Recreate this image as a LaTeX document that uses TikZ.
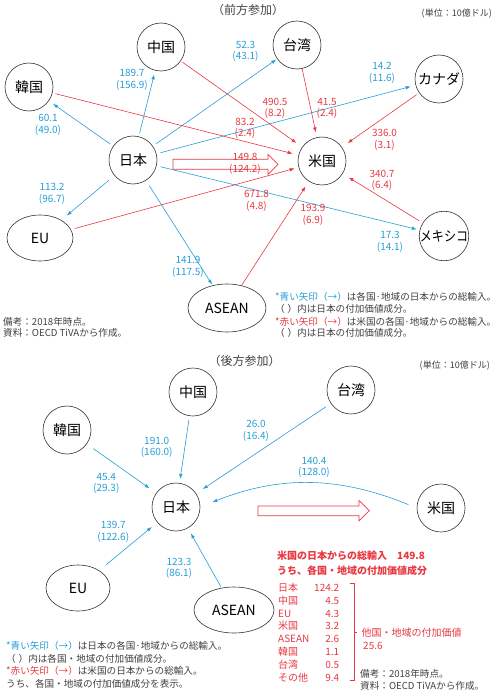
\documentclass[tikz,border=0pt]{standalone}
\usepackage{fontspec}
\setmainfont{Noto Sans CJK JP}
\usetikzlibrary{arrows.meta,shapes.geometric}
\definecolor{jblue}{RGB}{38,158,216}
\definecolor{jred}{RGB}{232,56,66}
\definecolor{ngray}{RGB}{64,64,64}

\begin{document}
\begin{tikzpicture}[x=1pt,y=-1pt,>={Latex[length=5pt,width=3.6pt]},
  country/.style={circle,draw=black!80,line width=0.6pt,minimum size=48pt,inner sep=0pt,font=\fontsize{14}{14}\selectfont},
  region/.style={ellipse,draw=black!80,line width=0.6pt,minimum width=66pt,minimum height=46pt,inner sep=0pt,font=\fontsize{14}{14}\selectfont}]

% Define text and line styles
\tikzstyle{blue line} = [draw=jblue, line width=0.6pt, ->]
\tikzstyle{red line} = [draw=jred, line width=0.6pt, ->]
\tikzstyle{blue num} = [text=jblue, align=center, inner sep=0pt, font=\fontsize{10}{11.5}\selectfont]
\tikzstyle{red num} = [text=jred, align=center, inner sep=0pt, font=\fontsize{10}{11.5}\selectfont]
\tikzstyle{note} = [text=ngray, anchor=west, inner sep=0pt, font=\fontsize{9.6}{12}\selectfont]
\tikzstyle{panel title} = [text=ngray, inner sep=0pt, font=\fontsize{12}{12}\selectfont]
\tikzstyle{unit} = [text=ngray, anchor=east, inner sep=0pt, font=\fontsize{9}{9}\selectfont]
\tikzstyle{red text} = [text=jred, anchor=west, inner sep=0pt, font=\fontsize{10}{12.9}\selectfont]
\tikzstyle{hollow} = [draw=jred, line width=0.7pt, line join=miter]

\useasboundingbox (0,0) rectangle (497,693);

% upper panel
\node[panel title] (ttop) at (248,10) {（前方参加）};
\node[unit] (utop) at (492,14) {(単位：10億ドル)};

\node[country] (cn) at (161,47) {中国};
\node[country] (kr) at (29,87) {韓国};
\node[country] (tw) at (297,45) {台湾};
\node[country] (ca) at (439,79) {カナダ};
\node[country] (jp) at (133,160) {日本};
\node[country] (us) at (322,161) {米国};
\node[country] (mx) at (444,236) {\scalebox{0.86}[1]{メキシコ}};
\node[region] (eu) at (40,238) {EU};
\node[region, minimum width=78pt, minimum height=48pt] (as) at (227,308) {ASEAN};

\draw[hollow] (173,159.3) -- (268,159.3) -- (268,154.3) -- (278,164.3) -- (268,174.3) -- (268,169.3) -- (173,169.3) -- cycle;

\path
  (jp) edge[blue line, shorten <=3pt, shorten >=4pt] (cn)
       edge[blue line, shorten <=4pt, shorten >=5pt] (kr)
       edge[blue line, shorten <=4pt, shorten >=1pt] (tw)
       edge[blue line, shorten <=4pt, shorten >=5pt] (ca)
       edge[blue line, shorten <=4pt, shorten >=3pt] (mx)
       edge[blue line, shorten <=7pt, shorten >=7pt] (eu)
       edge[blue line, shorten <=6pt, shorten >=1pt] (as)
  (cn) edge[red line, shorten <=2pt, shorten >=7pt] (us)
  (kr) edge[red line, shorten <=3pt, shorten >=6pt] (us)
  (tw) edge[red line, shorten <=0pt, shorten >=5pt] (us)
  (ca) edge[red line, shorten <=3pt, shorten >=7pt] (us)
  (eu) edge[red line, shorten <=4pt, shorten >=4pt] (us)
  (as) edge[red line, shorten <=0pt, shorten >=6pt] (us)
  (mx) edge[red line, shorten <=4pt, shorten >=7pt] (us);

\node[blue num] (vcn) at (132,80) {189.7\\(156.9)};
\node[blue num] (vkr) at (48,125) {60.1\\(49.0)};
\node[blue num] (vtw) at (245.5,51.5) {52.3\\(43.1)};
\node[blue num] (vca) at (382,73) {14.2\\(11.6)};
\node[blue num] (vmx) at (390,242) {17.3\\(14.1)};
\node[blue num] (veu) at (52,194) {113.2\\(96.7)};
\node[blue num] (vas) at (188,267) {141.9\\(117.5)};

\node[red num] (wcn) at (275,108.5) {490.5\\(8.2)};
\node[red num] (wtw) at (327,108.5) {41.5\\(2.4)};
\node[red num] (wkr) at (245,128.5) {83.2\\(2.4)};
\node[red num] (wca) at (384.5,140) {336.0\\(3.1)};
\node[red num] (wjp) at (245,164) {149.8\\(124.2)};
\node[red num] (weu) at (256.5,201) {671.8\\(4.8)};
\node[red num] (was) at (313,215) {193.9\\(6.9)};
\node[red num] (wmx) at (382,180.5) {340.7\\(6.4)};

\node[note] (ntop1) at (3,321.7) {備考：2018年時点。};
\node[note] (ntop2) at (3,333.3) {資料：OECD TiVAから作成。};
\node[note] (ktop1) at (275,297.3) {\textcolor{jblue}{*青い矢印（→）}は各国·地域の日本からの総輸入。};
\node[note] (ktop2) at (275,309) {（\hspace{0.3em}）内は日本の付加価値成分。};
\node[note] (ktop3) at (275,321.7) {\textcolor{jred}{*赤い矢印（→）}は米国の各国·地域からの総輸入。};
\node[note] (ktop4) at (275,333.3) {（\hspace{0.3em}）内は日本の付加価値成分。};

% lower panel
\node[panel title] (tbot) at (244.5,361) {（後方参加）};
\node[unit] (ubot) at (490,366) {(単位：10億ドル)};

\node[country] (cn2) at (193,392) {中国};
\node[country] (kr2) at (67,430) {韓国};
\node[country] (tw2) at (351,390) {台湾};
\node[country] (jp2) at (176,507) {日本};
\node[country] (us2) at (441,508) {米国};
\node[region, minimum width=64pt] (eu2) at (78,588) {EU};
\node[region, minimum width=80pt] (as2) at (234,610) {ASEAN};

\draw[hollow] (258,506) -- (359,506) -- (359,500.5) -- (369.3,510.7) -- (359,520.9) -- (359,515.7) -- (258,515.7) -- cycle;

\path
  (cn2) edge[blue line, shorten <=4pt, shorten >=4pt] (jp2)
  (kr2) edge[blue line, shorten <=8pt, shorten >=8pt] (jp2)
  (tw2) edge[blue line, shorten <=6pt, shorten >=8pt] (jp2)
  (eu2) edge[blue line, shorten <=9pt, shorten >=7pt] (jp2)
  (as2) edge[blue line, shorten <=1pt, shorten >=6pt] (jp2)
  (us2.west) edge[blue line, bend right=22, shorten <=9pt, shorten >=13pt] (jp2.east);

\node[blue num] (vcn2) at (156.7,447.5) {191.0\\(160.0)};
\node[blue num] (vkr2) at (106.3,483.3) {45.4\\(29.3)};
\node[blue num] (vtw2) at (256,431) {26.0\\(16.4)};
\node[blue num] (vus2) at (314,467.5) {140.4\\(128.0)};
\node[blue num] (veu2) at (113.3,531.7) {139.7\\(122.6)};
\node[blue num] (vas2) at (179,568.3) {123.3\\(86.1)};

\node[red text, font=\fontsize{10}{12}\selectfont\bfseries] (sum1) at (277,556) {米国の日本からの総輸入　149.8};
\node[red text, font=\fontsize{10}{12}\selectfont\bfseries] (sum2) at (277,571) {うち、各国・地域の付加価値成分};
\node[red text, anchor=north west] (vlist) at (278,582) {\begin{tabular*}{61pt}{@{}l@{\extracolsep{\fill}}r@{}}
日本 & 124.2\\ 中国 & 4.5\\ EU & 4.3\\ 米国 & 3.2\\ ASEAN & 2.6\\ 韓国 & 1.1\\ 台湾 & 0.5\\ その他 & 9.4
\end{tabular*}};
\draw[jred, line width=0.6pt] (350,583) -- (354,583) -- (354,680) -- (350,680);
\draw[jred, line width=0.6pt] (354,632.7) -- (357,632.7);
\node[red text] (rest1) at (361.5,633) {他国・地域の付加価値};
\node[red text] (rest2) at (363,646) {25.6};

\node[note] (nbot1) at (360,674) {備考：2018年時点。};
\node[note] (nbot2) at (360,686) {資料：OECD TiVAから作成。};
\node[note] (kbot1) at (6,646) {\textcolor{jblue}{*青い矢印（→）}は日本の各国·地域からの総輸入。};
\node[note] (kbot2) at (6,658.5) {（\hspace{0.3em}）内は各国・地域の付加価値成分。};
\node[note] (kbot3) at (6,671) {\textcolor{jred}{*赤い矢印（→）}は米国の日本からの総輸入。};
\node[note] (kbot4) at (6,683.5) {うち、各国・地域の付加価値成分を表示。};

\end{tikzpicture}
\end{document}
